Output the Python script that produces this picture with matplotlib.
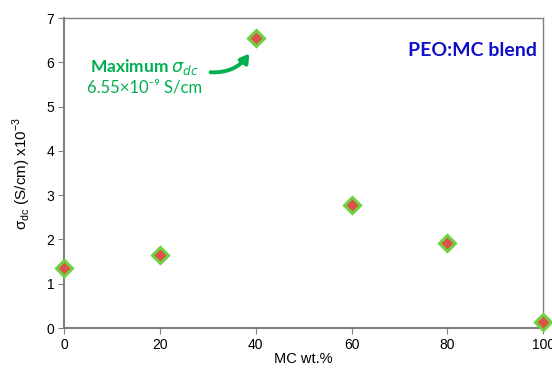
import matplotlib
matplotlib.use("Agg")
import matplotlib.pyplot as plt

mc_wt = [0, 20, 40, 60, 80, 100]
sigma_dc = [1.35, 1.65, 6.55, 2.77, 1.93, 0.13]
x_ticks = [0, 20, 40, 60, 80, 100]
y_ticks = [0, 1, 2, 3, 4, 5, 6, 7]

plt.rcParams['font.family'] = ['Liberation Sans', 'DejaVu Sans']
plt.rcParams['mathtext.fontset'] = 'custom'
plt.rcParams['mathtext.rm'] = 'Liberation Sans'

fig = plt.figure(figsize=(5.52, 3.69), dpi=100)
ax = fig.add_axes([0.116, 0.111, 0.868, 0.840])

ax.plot(mc_wt, sigma_dc, linestyle="none", marker="D", markersize=8,
        markerfacecolor="#e0504a", markeredgecolor="#6fd040", markeredgewidth=2.2,
        clip_on=False, zorder=5)

ax.set_xlim(0, 100)
ax.set_ylim(0, 7)
ax.set_xticks(x_ticks)
ax.set_yticks(y_ticks)
ax.tick_params(direction="out", length=4, color="#808080", labelsize=10, pad=3)
for side in ["left", "bottom", "right", "top"]:
    ax.spines[side].set_color("#808080")
    ax.spines[side].set_linewidth(1.5)
ax.spines["right"].set_linewidth(1.0)
ax.spines["top"].set_linewidth(1.0)

ax.set_xlabel("MC wt.%", fontsize=10.5, labelpad=0)
ax.set_ylabel("\u03c3$_{\\mathregular{dc}}$ (S/cm) x10$^{\\mathregular{-3}}$", fontsize=11, labelpad=10)

green = "#00b050"
ax.text(16.9, 5.89, r"Maximum $\sigma_{dc}$", color=green, fontsize=12.5, fontweight="bold",
        family=["Lato", "DejaVu Sans"], ha="center", va="center")
ax.text(16.9, 5.44, "6.55\u00d710\u207b\u2079 S/cm", color=green, fontsize=12,
        family=["Lato", "DejaVu Sans"], ha="center", va="center")
ax.annotate("", xy=(39.0, 6.25), xytext=(30.0, 5.78),
            arrowprops=dict(arrowstyle="-|>,head_length=0.5,head_width=0.3", color=green, lw=2.8,
                            connectionstyle="arc3,rad=0.3"))

ax.text(85.2, 6.27, "PEO:MC blend", color="#1010c8", fontsize=14, fontweight="bold",
        family=["Lato", "DejaVu Sans"], ha="center", va="center")

plt.savefig("out.png", dpi=100)
